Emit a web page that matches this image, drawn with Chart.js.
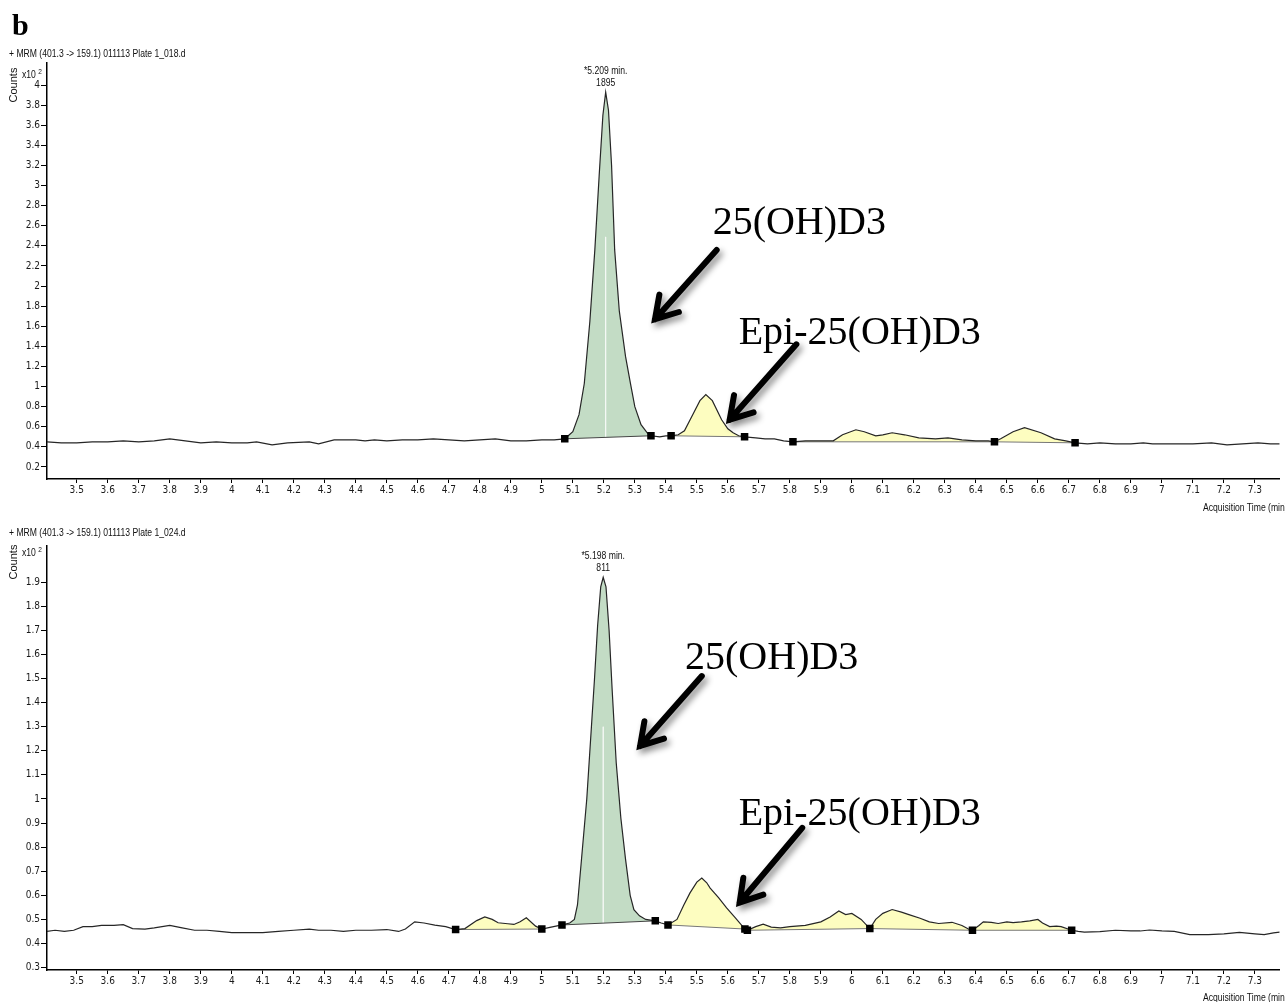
<!DOCTYPE html>
<html>
<head>
<meta charset="utf-8">
<title>MRM 401.3 -> 159.1 chromatograms</title>
<script src="https://cdn.jsdelivr.net/npm/chart.js@4.4.1/dist/chart.umd.min.js"></script>
<style>
    html, body { margin: 0; padding: 0; background: #fff; overflow: hidden; }
    body { width: 1285px; height: 1002px; position: relative; }
    canvas { position: absolute; left: 0; }
    .txt {
        position: absolute;
        white-space: nowrap;
        font-family: 'Liberation Sans', Arial, sans-serif;
        font-size: 10.5px;
        line-height: 12px;
        color: #111;
        transform: scaleX(0.82);
        transform-origin: left center;
    }
    .panel-letter {
        position: absolute; left: 12px; top: 8px;
        font-family: 'Liberation Serif', 'Times New Roman', serif;
        font-weight: bold; font-size: 30px; line-height: 34px; color: #000;
    }
    .counts {
        position: absolute;
        font-family: 'Liberation Sans', Arial, sans-serif;
        font-size: 11px; line-height: 12px; color: #111;
        transform: rotate(-90deg);
        transform-origin: center center;
        width: 40px; text-align: center;
    }
    .exp sup { font-size: 8px; vertical-align: 4px; }
</style>
</head>
<body>

<canvas id="chartTop" width="1285" height="515" style="top:0;"></canvas>
<canvas id="chartBottom" width="1285" height="487" style="top:515px;"></canvas>

<div class="panel-letter">b</div>

<div class="txt" style="left:9px; top:47px;">+ MRM (401.3 -&gt; 159.1) 011113 Plate 1_018.d</div>
<div class="counts" style="left:-7px; top:79px;">Counts</div>
<div class="txt exp" style="left:22px; top:66px;">x10 <sup>2</sup></div>
<div class="txt" style="left:1203px; top:501px;">Acquisition Time (min)</div>

<div class="txt" style="left:9px; top:526px;">+ MRM (401.3 -&gt; 159.1) 011113 Plate 1_024.d</div>
<div class="counts" style="left:-7px; top:556px;">Counts</div>
<div class="txt exp" style="left:22px; top:544px;">x10 <sup>2</sup></div>
<div class="txt" style="left:1203px; top:991px;">Acquisition Time (min)</div>

<script>
// ===================================
// MRM chromatograms, 25(OH)D3 vs epi-25(OH)D3
// ===================================

const FONT_TICK = "'DejaVu Sans Condensed', 'Liberation Sans', sans-serif";
const FONT_LABEL = "'Liberation Sans', Arial, sans-serif";
const FONT_SERIF = "'Liberation Serif', 'Times New Roman', serif";

const GREEN_FILL = '#c3dcc5';
const YELLOW_FILL = '#fdfdc0';

// Acquisition time axis (min), shared by both panels
const xTicks = [3.5, 3.6, 3.7, 3.8, 3.9, 4, 4.1, 4.2, 4.3, 4.4, 4.5, 4.6, 4.7, 4.8, 4.9, 5,
    5.1, 5.2, 5.3, 5.4, 5.5, 5.6, 5.7, 5.8, 5.9, 6, 6.1, 6.2, 6.3, 6.4, 6.5, 6.6, 6.7, 6.8, 6.9, 7,
    7.1, 7.2, 7.3];
const xLabels = ['3.5', '3.6', '3.7', '3.8', '3.9', '4', '4.1', '4.2', '4.3', '4.4', '4.5', '4.6', '4.7', '4.8', '4.9', '5',
    '5.1', '5.2', '5.3', '5.4', '5.5', '5.6', '5.7', '5.8', '5.9', '6', '6.1', '6.2', '6.3', '6.4', '6.5', '6.6', '6.7', '6.8', '6.9', '7',
    '7.1', '7.2', '7.3'];

// ---------- top panel (Plate 1_018) ----------
const topYTicks = [0.2, 0.4, 0.6, 0.8, 1, 1.2, 1.4, 1.6, 1.8, 2, 2.2, 2.4, 2.6, 2.8, 3, 3.2, 3.4, 3.6, 3.8, 4];
const topYLabels = ['0.2', '0.4', '0.6', '0.8', '1', '1.2', '1.4', '1.6', '1.8', '2', '2.2', '2.4', '2.6', '2.8', '3', '3.2', '3.4', '3.6', '3.8', '4'];

const topTime = [3.40, 3.45, 3.50, 3.55, 3.60, 3.65, 3.70, 3.75, 3.80, 3.85, 3.90, 3.95, 4.00, 4.05, 4.08, 4.13,
    4.18, 4.25, 4.28, 4.33, 4.40, 4.43, 4.46, 4.50, 4.55, 4.60, 4.65, 4.70, 4.75, 4.80, 4.85, 4.90, 4.95, 5.00, 5.04,
    5.074, 5.10, 5.12, 5.137, 5.155, 5.171, 5.185, 5.197, 5.206, 5.215, 5.225, 5.235, 5.25, 5.27, 5.286, 5.30, 5.32, 5.34, 5.352,
    5.38, 5.40, 5.417, 5.44, 5.46, 5.49, 5.51, 5.529, 5.55, 5.58, 5.60, 5.617, 5.635, 5.654,
    5.69, 5.72, 5.75, 5.78, 5.81, 5.85, 5.90, 5.94, 5.97, 6.013, 6.04, 6.077, 6.10, 6.13, 6.17, 6.216, 6.27, 6.31, 6.355,
    6.40, 6.44, 6.46, 6.48, 6.52, 6.557, 6.61, 6.654, 6.69, 6.72,
    6.76, 6.80, 6.85, 6.90, 6.94, 6.97, 7.00, 7.05, 7.10, 7.16, 7.21, 7.26, 7.31, 7.35, 7.38];
const topCounts = [0.45, 0.44, 0.44, 0.45, 0.45, 0.46, 0.45, 0.46, 0.48, 0.46, 0.44, 0.45, 0.44, 0.44, 0.45, 0.42,
    0.44, 0.45, 0.43, 0.47, 0.47, 0.46, 0.47, 0.46, 0.47, 0.47, 0.48, 0.47, 0.46, 0.47, 0.48, 0.46, 0.46, 0.47, 0.47,
    0.48, 0.55, 0.72, 1.03, 1.65, 2.36, 3.1, 3.7, 3.93, 3.75, 3.2, 2.36, 1.75, 1.3, 1.03, 0.80, 0.62, 0.54, 0.51,
    0.50, 0.51, 0.51, 0.52, 0.56, 0.74, 0.86, 0.92, 0.86, 0.67, 0.58, 0.54, 0.51, 0.50,
    0.49, 0.48, 0.48, 0.46, 0.45, 0.46, 0.46, 0.46, 0.52, 0.57, 0.55, 0.51, 0.52, 0.54, 0.52, 0.49, 0.48, 0.49, 0.47,
    0.46, 0.46, 0.45, 0.48, 0.55, 0.59, 0.54, 0.48, 0.46, 0.44,
    0.43, 0.44, 0.43, 0.43, 0.44, 0.43, 0.43, 0.43, 0.43, 0.44, 0.42, 0.43, 0.44, 0.43, 0.43];

// integrated peaks [start, end] (min)
const topGreen = [[5.074, 5.352]];
const topYellow = [[5.417, 5.654], [5.81, 6.46], [6.46, 6.72]];
const topPeakText = ['*5.209 min.', '1895'];
const topRtMark = [5.206, 2.49];

const topNotes = ['25(OH)D3', 'Epi-25(OH)D3'];
const topNoteAt = [[5.551, 2.62], [5.635, 1.53]];
const topArrows = [[5.564, 2.36, 5.365, 1.67], [5.821, 1.42, 5.606, 0.67]];

// ---------- bottom panel (Plate 1_024) ----------
const botYTicks = [0.3, 0.4, 0.5, 0.6, 0.7, 0.8, 0.9, 1, 1.1, 1.2, 1.3, 1.4, 1.5, 1.6, 1.7, 1.8, 1.9];
const botYLabels = ['0.3', '0.4', '0.5', '0.6', '0.7', '0.8', '0.9', '1', '1.1', '1.2', '1.3', '1.4', '1.5', '1.6', '1.7', '1.8', '1.9'];

const botTime = [3.40, 3.43, 3.46, 3.49, 3.52, 3.55, 3.58, 3.62, 3.65, 3.68, 3.72, 3.75, 3.80, 3.84, 3.88, 3.92, 3.96,
    4.00, 4.05, 4.10, 4.15, 4.20, 4.25, 4.28, 4.32, 4.36, 4.40, 4.45, 4.50, 4.538, 4.56, 4.59, 4.62, 4.655, 4.69,
    4.722, 4.752, 4.79, 4.816, 4.84, 4.859, 4.89, 4.91, 4.93, 4.95, 4.98, 5.00, 5.03,
    5.065, 5.09, 5.105, 5.115, 5.128, 5.145, 5.16, 5.17, 5.18, 5.19, 5.198, 5.207, 5.217, 5.227, 5.24, 5.255, 5.27,
    5.285, 5.297, 5.315, 5.335, 5.366, 5.385,
    5.407, 5.436, 5.458, 5.478, 5.50, 5.516, 5.532, 5.543, 5.57, 5.596, 5.625, 5.655, 5.663,
    5.69, 5.714, 5.74, 5.77, 5.80, 5.85, 5.90, 5.93, 5.958, 5.98, 6.00, 6.03, 6.058,
    6.077, 6.10, 6.13, 6.16, 6.184, 6.22, 6.25, 6.28, 6.323, 6.355, 6.376, 6.389,
    6.41, 6.424, 6.45, 6.472, 6.50, 6.52, 6.547, 6.574, 6.60, 6.615, 6.638, 6.66, 6.675, 6.709,
    6.73, 6.75, 6.80, 6.85, 6.90, 6.93, 6.96, 7.00, 7.04, 7.09, 7.15, 7.20, 7.25, 7.30, 7.33, 7.36, 7.38];
const botCounts = [0.45, 0.455, 0.45, 0.455, 0.47, 0.47, 0.475, 0.475, 0.478, 0.462, 0.46, 0.465, 0.475, 0.465, 0.455, 0.455, 0.45,
    0.445, 0.445, 0.445, 0.45, 0.455, 0.46, 0.455, 0.455, 0.45, 0.455, 0.455, 0.458, 0.45, 0.46, 0.49, 0.485, 0.476, 0.47,
    0.458, 0.462, 0.495, 0.51, 0.50, 0.486, 0.482, 0.479, 0.49, 0.507, 0.472, 0.46, 0.468,
    0.477, 0.485, 0.50, 0.56, 0.75, 1.0, 1.3, 1.5, 1.72, 1.88, 1.92, 1.88, 1.7, 1.45, 1.15, 0.92, 0.75,
    0.60, 0.54, 0.515, 0.50, 0.494, 0.485,
    0.477, 0.50, 0.56, 0.61, 0.655, 0.672, 0.652, 0.63, 0.59, 0.548, 0.505, 0.46, 0.455,
    0.47, 0.48, 0.468, 0.465, 0.47, 0.475, 0.49, 0.51, 0.535, 0.52, 0.525, 0.50, 0.462,
    0.50, 0.525, 0.541, 0.53, 0.52, 0.505, 0.49, 0.483, 0.488, 0.475, 0.46, 0.455,
    0.475, 0.49, 0.488, 0.483, 0.49, 0.487, 0.49, 0.494, 0.50, 0.485, 0.47, 0.472, 0.47, 0.455,
    0.45, 0.447, 0.449, 0.455, 0.452, 0.452, 0.456, 0.452, 0.45, 0.437, 0.437, 0.44, 0.446, 0.44, 0.437, 0.444, 0.447];

const botGreen = [[5.065, 5.366]];
const botYellow = [[4.722, 5.0], [5.407, 5.655], [5.663, 6.058], [6.058, 6.389], [6.389, 6.709]];
const botPeakText = ['*5.198 min.', '811'];
const botRtMark = [5.198, 1.3];

const botNotes = ['25(OH)D3', 'Epi-25(OH)D3'];
const botNoteAt = [[5.462, 1.585], [5.635, 0.937]];
const botArrows = [[5.516, 1.51, 5.317, 1.22], [5.840, 0.88, 5.638, 0.57]];

// Helpers
function toPoints(times, vals) {
    return times.map((t, i) => ({ x: t, y: vals[i] }));
}

function segment(times, vals, a, b) {
    const out = [];
    times.forEach((t, i) => {
        if (t >= a - 1e-9 && t <= b + 1e-9) out.push({ x: t, y: vals[i] });
    });
    return out;
}

function valueAt(times, vals, t) {
    return vals[times.findIndex(v => Math.abs(v - t) < 1e-9)];
}

function drawArrow(ctx, x1, y1, x2, y2) {
    const ang = Math.atan2(y2 - y1, x2 - x1);
    const len = 25, spread = 0.55;
    ctx.save();
    ctx.shadowColor = 'rgba(0,0,0,0.45)';
    ctx.shadowBlur = 6;
    ctx.shadowOffsetX = 3;
    ctx.shadowOffsetY = 4;
    ctx.strokeStyle = '#000';
    ctx.lineWidth = 6;
    ctx.lineCap = 'round';
    ctx.lineJoin = 'miter';
    ctx.beginPath();
    ctx.moveTo(x1, y1);
    ctx.lineTo(x2, y2);
    ctx.moveTo(x2 - len * Math.cos(ang - spread), y2 - len * Math.sin(ang - spread));
    ctx.lineTo(x2, y2);
    ctx.lineTo(x2 - len * Math.cos(ang + spread), y2 - len * Math.sin(ang + spread));
    ctx.stroke();
    ctx.restore();
}

// condensed label, centred on (x, y)
function narrowText(ctx, txt, x, y) {
    ctx.save();
    ctx.translate(x, y);
    ctx.scale(0.82, 1);
    ctx.fillText(txt, 0, 0);
    ctx.restore();
}

// Text and arrows placed through the chart's own scales
function annotationPlugin(p) {
    return {
        id: 'chromAnnotations',
        afterDatasetsDraw(chart) {
            const ctx = chart.ctx;
            const xs = chart.scales.x, ys = chart.scales.y;

            // apex label above the green peak
            const green = segment(p.time, p.counts, p.green[0][0], p.green[0][1]);
            const apex = green.reduce((m, d) => (d.y > m.y ? d : m), green[0]);
            const ax = xs.getPixelForValue(apex.x), ay = ys.getPixelForValue(apex.y);
            ctx.save();
            ctx.fillStyle = '#111';
            ctx.font = '10.5px ' + FONT_LABEL;
            ctx.textAlign = 'center';
            ctx.textBaseline = 'middle';
            narrowText(ctx, p.peakText[0], ax, ay - 21);
            narrowText(ctx, p.peakText[1], ax, ay - 9);
            ctx.restore();

            p.arrows.forEach(a => {
                drawArrow(ctx, xs.getPixelForValue(a[0]), ys.getPixelForValue(a[1]),
                    xs.getPixelForValue(a[2]), ys.getPixelForValue(a[3]));
            });

            ctx.save();
            ctx.fillStyle = '#000';
            ctx.font = '40px ' + FONT_SERIF;
            ctx.textAlign = 'left';
            ctx.textBaseline = 'middle';
            p.notes.forEach((txt, i) => {
                ctx.fillText(txt, xs.getPixelForValue(p.noteAt[i][0]), ys.getPixelForValue(p.noteAt[i][1]));
            });
            ctx.restore();
        }
    };
}

function buildChart(canvasId, p) {
    const datasets = [];

    // integration end markers
    const ends = [];
    p.green.concat(p.yellow).forEach(r => r.forEach(t => { if (!ends.includes(t)) ends.push(t); }));
    datasets.push({
        label: 'markers',
        data: ends.map(t => ({ x: t, y: valueAt(p.time, p.counts, t) })),
        showLine: false,
        pointStyle: 'rect',
        pointRadius: 5.3,
        pointBackgroundColor: '#000',
        pointBorderWidth: 0,
        order: 0
    });

    // raw trace
    datasets.push({
        label: 'trace',
        data: toPoints(p.time, p.counts),
        borderColor: '#262626',
        borderWidth: 1.2,
        pointRadius: 0,
        fill: false,
        order: 1
    });

    // integration baselines
    p.green.concat(p.yellow).forEach((r, i) => {
        datasets.push({
            label: 'baseline' + i,
            data: r.map(t => ({ x: t, y: valueAt(p.time, p.counts, t) })),
            borderColor: i < p.green.length ? '#444' : '#777',
            borderWidth: 1,
            pointRadius: 0,
            fill: false,
            order: 2
        });
    });

    // retention-time marker inside the main peak
    datasets.push({
        label: 'rt',
        data: [{ x: p.rtMark[0], y: p.rtMark[1] }, { x: p.rtMark[0], y: valueAt(p.time, p.counts, p.green[0][0]) }],
        borderColor: 'rgba(255,255,255,0.55)',
        borderWidth: 1,
        pointRadius: 0,
        fill: false,
        order: 3
    });

    // filled peak areas (closed shape: trace plus the chord back to the start)
    p.green.forEach(r => datasets.push({
        label: 'green',
        data: segment(p.time, p.counts, r[0], r[1]),
        backgroundColor: GREEN_FILL,
        borderWidth: 0,
        pointRadius: 0,
        fill: 'shape',
        order: 4
    }));
    p.yellow.forEach(r => datasets.push({
        label: 'yellow',
        data: segment(p.time, p.counts, r[0], r[1]),
        backgroundColor: YELLOW_FILL,
        borderWidth: 0,
        pointRadius: 0,
        fill: 'shape',
        order: 4
    }));

    const tickFont = { family: FONT_TICK, size: 10 };

    return new Chart(document.getElementById(canvasId), {
        type: 'line',
        data: { datasets: datasets },
        options: {
            responsive: false,
            animation: false,
            devicePixelRatio: 1,
            layout: { padding: { top: p.padTop, left: 0, right: 0, bottom: 0 } },
            plugins: { legend: { display: false }, tooltip: { enabled: false } },
            elements: { line: { tension: 0 } },
            scales: {
                x: {
                    type: 'linear',
                    min: 3.404,
                    max: 7.38,
                    afterBuildTicks: s => { s.ticks = xTicks.map(v => ({ value: v })); },
                    afterFit: s => { s.height = p.xAxisHeight; },
                    ticks: {
                        autoSkip: false,
                        maxRotation: 0,
                        padding: 1,
                        color: '#1a1a1a',
                        font: tickFont,
                        callback: (v, i) => xLabels[i]
                    },
                    grid: { display: true, drawOnChartArea: false, drawTicks: true, tickLength: 4, tickColor: '#000', color: '#000' },
                    border: { display: true, color: '#000', width: 1.5 }
                },
                y: {
                    min: p.yMin,
                    max: p.yMax,
                    afterBuildTicks: s => { s.ticks = p.yTicks.map(v => ({ value: v })); },
                    afterFit: s => { s.width = 47; },
                    ticks: {
                        padding: 1,
                        color: '#1a1a1a',
                        font: tickFont,
                        callback: (v, i) => p.yLabels[i]
                    },
                    grid: { display: true, drawOnChartArea: false, drawTicks: true, tickLength: 6, tickColor: '#000', color: '#000' },
                    border: { display: true, color: '#000', width: 1.5 }
                }
            }
        },
        plugins: [annotationPlugin(p)]
    });
}

buildChart('chartTop', {
    time: topTime, counts: topCounts,
    green: topGreen, yellow: topYellow,
    peakText: topPeakText, rtMark: topRtMark,
    notes: topNotes, noteAt: topNoteAt, arrows: topArrows,
    yTicks: topYTicks, yLabels: topYLabels,
    yMin: 0.08, yMax: 4.22,
    padTop: 63, xAxisHeight: 36
});

buildChart('chartBottom', {
    time: botTime, counts: botCounts,
    green: botGreen, yellow: botYellow,
    peakText: botPeakText, rtMark: botRtMark,
    notes: botNotes, noteAt: botNoteAt, arrows: botArrows,
    yTicks: botYTicks, yLabels: botYLabels,
    yMin: 0.29, yMax: 2.05,
    padTop: 31, xAxisHeight: 32
});
</script>
</body>
</html>
